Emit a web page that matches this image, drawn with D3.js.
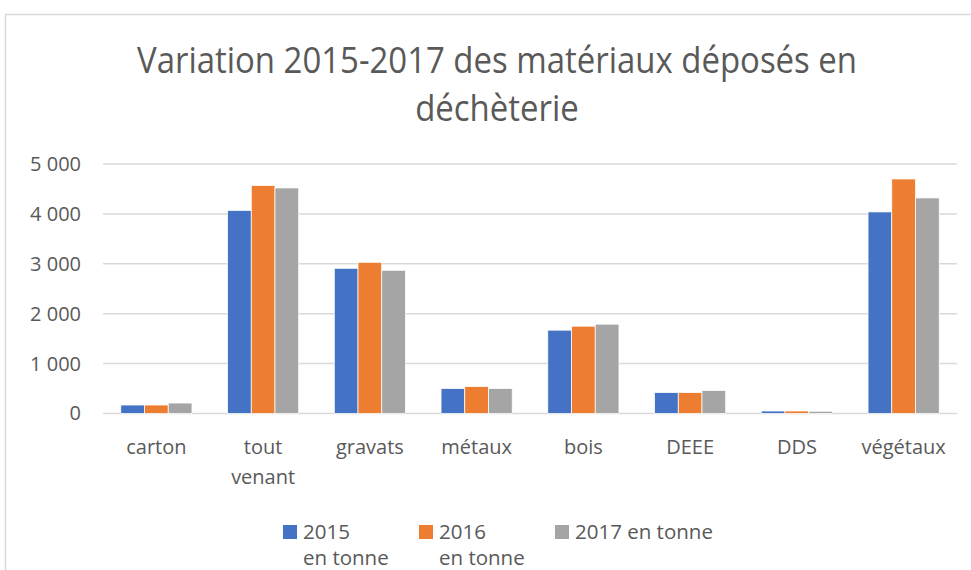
<!DOCTYPE html>
<html>
<head>
<meta charset="utf-8">
<script src="https://cdn.jsdelivr.net/npm/d3@7"></script>
<style>
  body { margin: 0; background: #fff; }
  text { font-family: "Open Sans", sans-serif; fill: #595959; }
</style>
</head>
<body>
<svg id="chart" width="971" height="570"></svg>
<script>
var categories = ["carton", "tout venant", "gravats", "métaux", "bois", "DEEE", "DDS", "végétaux"];
var seriesNames = ["2015 en tonne", "2016 en tonne", "2017 en tonne"];
var v2015 = [170, 4070, 2910, 500, 1670, 420, 50, 4040];
var v2016 = [170, 4570, 3030, 540, 1750, 420, 50, 4700];
var v2017 = [210, 4520, 2870, 500, 1790, 460, 45, 4320];
var yTicks = [0, 1000, 2000, 3000, 4000, 5000];
var colors = ["#4472C4", "#ED7D31", "#A5A5A5"];

var rows = categories.map(function(c, i) {
  return { cat: c, values: [v2015[i], v2016[i], v2017[i]] };
});

var svg = d3.select("#chart");

// chart area border (runs off the right and bottom of the picture)
svg.append("rect")
  .attr("x", 5.5).attr("y", 14.5)
  .attr("width", 1000).attr("height", 600)
  .attr("fill", "none")
  .attr("stroke", "#D9D9D9")
  .attr("stroke-width", 1.5);

// title
var title = svg.append("g");
var t1 = title.append("text")
  .attr("x", 497).attr("y", 73)
  .attr("text-anchor", "middle")
  .style("font-size", "36px")
  .text("Variation 2015-2017 des matériaux déposés en");
var t2 = title.append("text")
  .attr("x", 497).attr("y", 121)
  .attr("text-anchor", "middle")
  .style("font-size", "36px")
  .text("déchèterie");
var ratio = 720 / t1.node().getComputedTextLength();
t1.attr("textLength", 720).attr("lengthAdjust", "spacingAndGlyphs");
t2.attr("textLength", t2.node().getComputedTextLength() * ratio).attr("lengthAdjust", "spacingAndGlyphs");

var x = d3.scaleBand().domain(categories).range([103, 957]);
var y = d3.scaleLinear().domain([0, 5000]).range([413.5, 164]);
var barW = x.bandwidth() / 4.5;
var xs = d3.scaleBand().domain([0, 1, 2]).range([0, barW * 3]);

// gridlines
svg.append("g")
  .selectAll("line")
  .data(yTicks)
  .enter().append("line")
    .attr("x1", 103).attr("x2", 957)
    .attr("y1", function(d) { return y(d); })
    .attr("y2", function(d) { return y(d); })
    .attr("stroke", "#D9D9D9")
    .attr("stroke-width", 1.5);

// y axis labels
var yAxis = svg.append("g")
  .attr("transform", "translate(103,0)")
  .call(d3.axisLeft(y).tickValues(yTicks).tickSize(0).tickPadding(22)
    .tickFormat(function(d) { return d3.format(",")(d).replace(/,/g, " "); }));
yAxis.select(".domain").remove();
yAxis.selectAll("text")
  .style("font-size", "20px")
  .style("font-family", "'Open Sans', sans-serif")
  .attr("fill", "#595959");

// bars
var groups = svg.append("g")
  .selectAll("g")
  .data(rows)
  .enter().append("g")
    .attr("transform", function(d) {
      return "translate(" + (x(d.cat) + (x.bandwidth() - barW * 3) / 2) + ",0)";
    });

groups.selectAll("rect")
  .data(function(d) { return d.values; })
  .enter().append("rect")
    .attr("x", function(d, i) { return xs(i); })
    .attr("y", function(d) { return y(d); })
    .attr("width", xs.bandwidth())
    .attr("height", function(d) { return y(0) - y(d); })
    .attr("fill", function(d, i) { return colors[i]; })
    .attr("stroke", "#fff")
    .attr("stroke-width", 0.75);

// category labels, wrapped when wider than the band
var xAxis = svg.append("g")
  .attr("transform", "translate(0,413.5)")
  .call(d3.axisBottom(x).tickSize(0).tickPadding(0));
xAxis.select(".domain").remove();
xAxis.selectAll("text")
  .style("font-size", "20px")
  .style("font-family", "'Open Sans', sans-serif")
  .attr("fill", "#595959")
  .attr("dy", null)
  .attr("y", 40)
  .each(function(d) {
    var el = d3.select(this);
    if (this.getComputedTextLength() > x.bandwidth()) {
      var words = d.split(" ");
      el.text(null);
      words.forEach(function(w, k) {
        el.append("tspan").attr("x", 0).attr("y", 40 + k * 30).text(w);
      });
    }
  });

// legend
var legendX = [283, 419, 555];
var legend = svg.append("g")
  .selectAll("g")
  .data(seriesNames)
  .enter().append("g")
    .attr("transform", function(d, i) { return "translate(" + legendX[i] + ",525)"; });

legend.append("rect")
  .attr("width", 14).attr("height", 14)
  .attr("fill", function(d, i) { return colors[i]; });

legend.append("text")
  .attr("x", 20).attr("y", 14)
  .style("font-size", "20.5px")
  .each(function(d, i) {
    var el = d3.select(this);
    if (i < 2) {
      var parts = [d.slice(0, 4), d.slice(5)];
      el.append("tspan").attr("x", 20).attr("y", 14).text(parts[0]);
      el.append("tspan").attr("x", 20).attr("y", 40).text(parts[1]);
    } else {
      el.text(d);
    }
  });
</script>
</body>
</html>
